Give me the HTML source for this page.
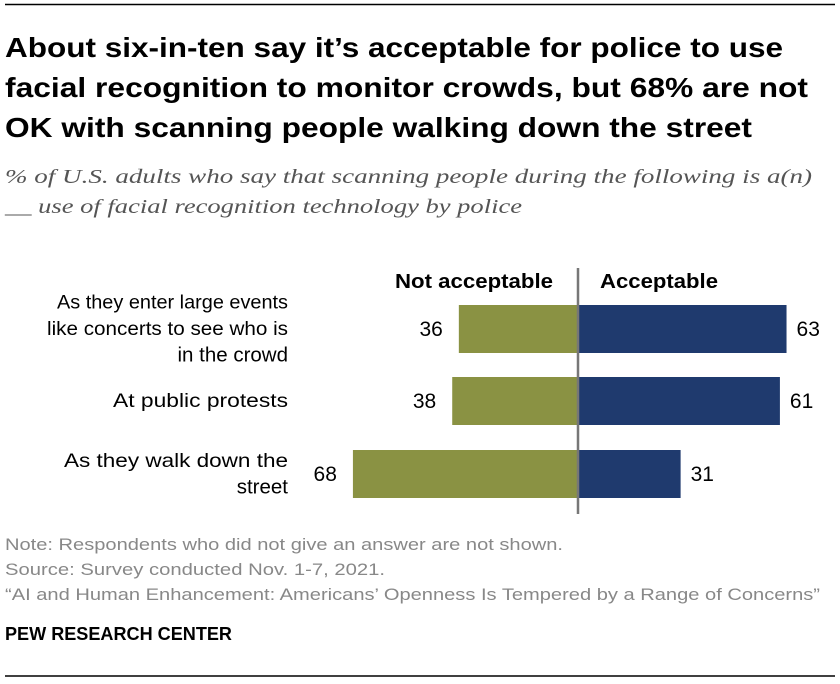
<!DOCTYPE html>
<html><head><meta charset="utf-8"><style>
body{margin:0;width:840px;height:684px;background:#fff;overflow:hidden}
svg{display:block}
</style></head><body>
<svg width="840" height="684" font-family="Liberation Sans, sans-serif">
<line x1="5" y1="4.5" x2="835" y2="4.5" stroke="#000" stroke-width="1.5"/>
<g font-weight="bold" font-size="28" fill="#000">
<text x="5" y="57" textLength="778" lengthAdjust="spacingAndGlyphs">About six-in-ten say it’s acceptable for police to use</text>
<text x="5" y="97" textLength="803" lengthAdjust="spacingAndGlyphs">facial recognition to monitor crowds, but 68% are not</text>
<text x="5" y="137" textLength="747" lengthAdjust="spacingAndGlyphs">OK with scanning people walking down the street</text>
</g>
<g font-family="Liberation Serif, serif" font-style="italic" font-size="20" fill="#555">
<text x="5" y="183" textLength="807" lengthAdjust="spacingAndGlyphs">% of U.S. adults who say that scanning people during the following is a(n)</text>
<text x="5" y="213" textLength="517" lengthAdjust="spacingAndGlyphs">__ use of facial recognition technology by police</text>
</g>
<text x="395" y="288" font-weight="bold" font-size="20" textLength="158" lengthAdjust="spacingAndGlyphs">Not acceptable</text>
<text x="600" y="288" font-weight="bold" font-size="20" textLength="118" lengthAdjust="spacingAndGlyphs">Acceptable</text>
<g id="bars"></g>
<line x1="578" y1="268" x2="578" y2="514" stroke="#777" stroke-width="2.5"/>
<g font-size="17" fill="#888">
<text x="5" y="550" textLength="558" lengthAdjust="spacingAndGlyphs">Note: Respondents who did not give an answer are not shown.</text>
<text x="5" y="575" textLength="380" lengthAdjust="spacingAndGlyphs">Source: Survey conducted Nov. 1-7, 2021.</text>
<text x="5" y="600" textLength="815" lengthAdjust="spacingAndGlyphs">“AI and Human Enhancement: Americans’ Openness Is Tempered by a Range of Concerns”</text>
</g>
<text x="5" y="640" font-weight="bold" font-size="18" textLength="227" lengthAdjust="spacingAndGlyphs">PEW RESEARCH CENTER</text>
<line x1="5" y1="676" x2="835" y2="676" stroke="#000" stroke-width="1.5"/>
</svg>
<script>
const categories=[["As they enter large events","like concerts to see who is","in the crowd"],["At public protests"],["As they walk down the","street"]];
const notAcceptable=[36,38,68];
const acceptable=[63,61,31];
const labelWidths=[[231,241,0],[175],[224,0]];
const NS="http://www.w3.org/2000/svg";
const cx=578, scale=3.31, rowTops=[305,377,450], bh=48;
const x=v=>v*scale;
const g=document.getElementById('bars');
function mk(tag,attrs,txt){const e=document.createElementNS(NS,tag);for(const k in attrs)e.setAttribute(k,attrs[k]);if(txt!==undefined)e.textContent=txt;g.appendChild(e);return e;}
categories.forEach((lines,i)=>{
  const y=rowTops[i], mid=y+bh/2;
  const r1=mk('rect',{x:cx-x(notAcceptable[i]),y:y,width:x(notAcceptable[i]),height:bh,fill:'#8a9243'});
  
  
  const r2=mk('rect',{x:cx,y:y,width:x(acceptable[i]),height:bh,fill:'#1f3a6e'});
  
  
  const t1=mk('text',{x:cx-x(notAcceptable[i])-16,y:mid+7,'font-size':21,'text-anchor':'end'},notAcceptable[i]);
  
  
  const t2=mk('text',{x:cx+x(acceptable[i])+10,y:mid+7,'font-size':21},acceptable[i]);
  
  
  const n=lines.length, lh=26.5;
  lines.forEach((s,j)=>{
    const w=labelWidths[i][j];
    const ty=mid+6+(j-(n-1)/2)*lh;
    const attrs=w?{x:288-w,y:ty,'font-size':19.8,textLength:w,lengthAdjust:'spacingAndGlyphs'}:{x:288,y:ty,'font-size':20.5,'text-anchor':'end'};
    const t=mk('text',attrs,s);
    
    
  });
});
</script>
</body></html>
